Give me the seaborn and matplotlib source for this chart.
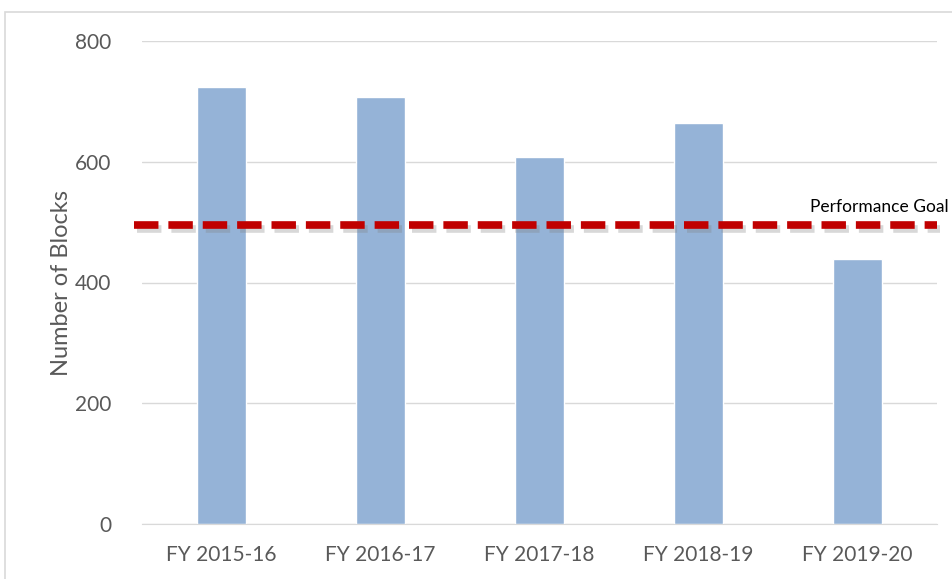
import matplotlib
matplotlib.use('Agg')
import matplotlib.pyplot as plt
import matplotlib.patheffects as pe
import seaborn as sns
import pandas as pd

years = ['FY 2015-16', 'FY 2016-17', 'FY 2017-18', 'FY 2018-19', 'FY 2019-20']
blocks = [724, 707, 608, 664, 439]
goal = 495

df = pd.DataFrame({'year': years, 'blocks': blocks})

sns.set_style('white')
plt.rcParams['font.family'] = ['Lato', 'DejaVu Sans']

fig = plt.figure(figsize=(9.52, 5.79), dpi=100)
ax = fig.add_axes([142/952, 55/579, 795/952, 483/579])

# outer chart frame (cropped screenshot)
fig.patches.append(plt.Rectangle((5/952, -0.01), 1.0, (567 + 6)/579, transform=fig.transFigure,
                                 fill=False, edgecolor='#d9d9d9', linewidth=1.2))

sns.barplot(data=df, x='year', y='blocks', color='#95b3d7', width=0.31, saturation=1, ax=ax, zorder=2)

ax.set_ylim(0, 800)
ax.set_xlim(-0.5, 4.5)
ax.set_yticks([0, 200, 400, 600, 800])
ax.yaxis.grid(True, color='#d9d9d9', linewidth=1)
ax.set_axisbelow(True)
for s in ['top', 'right', 'left']:
    ax.spines[s].set_visible(False)
ax.spines['bottom'].set_color('#d9d9d9')
ax.tick_params(axis='both', colors='#595959', labelsize=15, length=0)
ax.tick_params(axis='x', pad=15)
ax.tick_params(axis='y', pad=22)
ax.set_xlabel('')
ax.set_ylabel('Number of Blocks', fontsize=17, color='#595959', labelpad=2)

ax.plot([-0.55, 4.5], [goal, goal], color='#c00000', linewidth=5.5, linestyle=(0, (3.2, 1.3)),
        clip_on=False, zorder=5,
        path_effects=[pe.SimpleLineShadow(offset=(2, -3), shadow_color='gray', alpha=0.3), pe.Normal()])
ax.text(4.57, goal + 16, 'Performance Goal', fontsize=12.5, color='black', ha='right', va='bottom')

fig.savefig('out.png', dpi=100)
